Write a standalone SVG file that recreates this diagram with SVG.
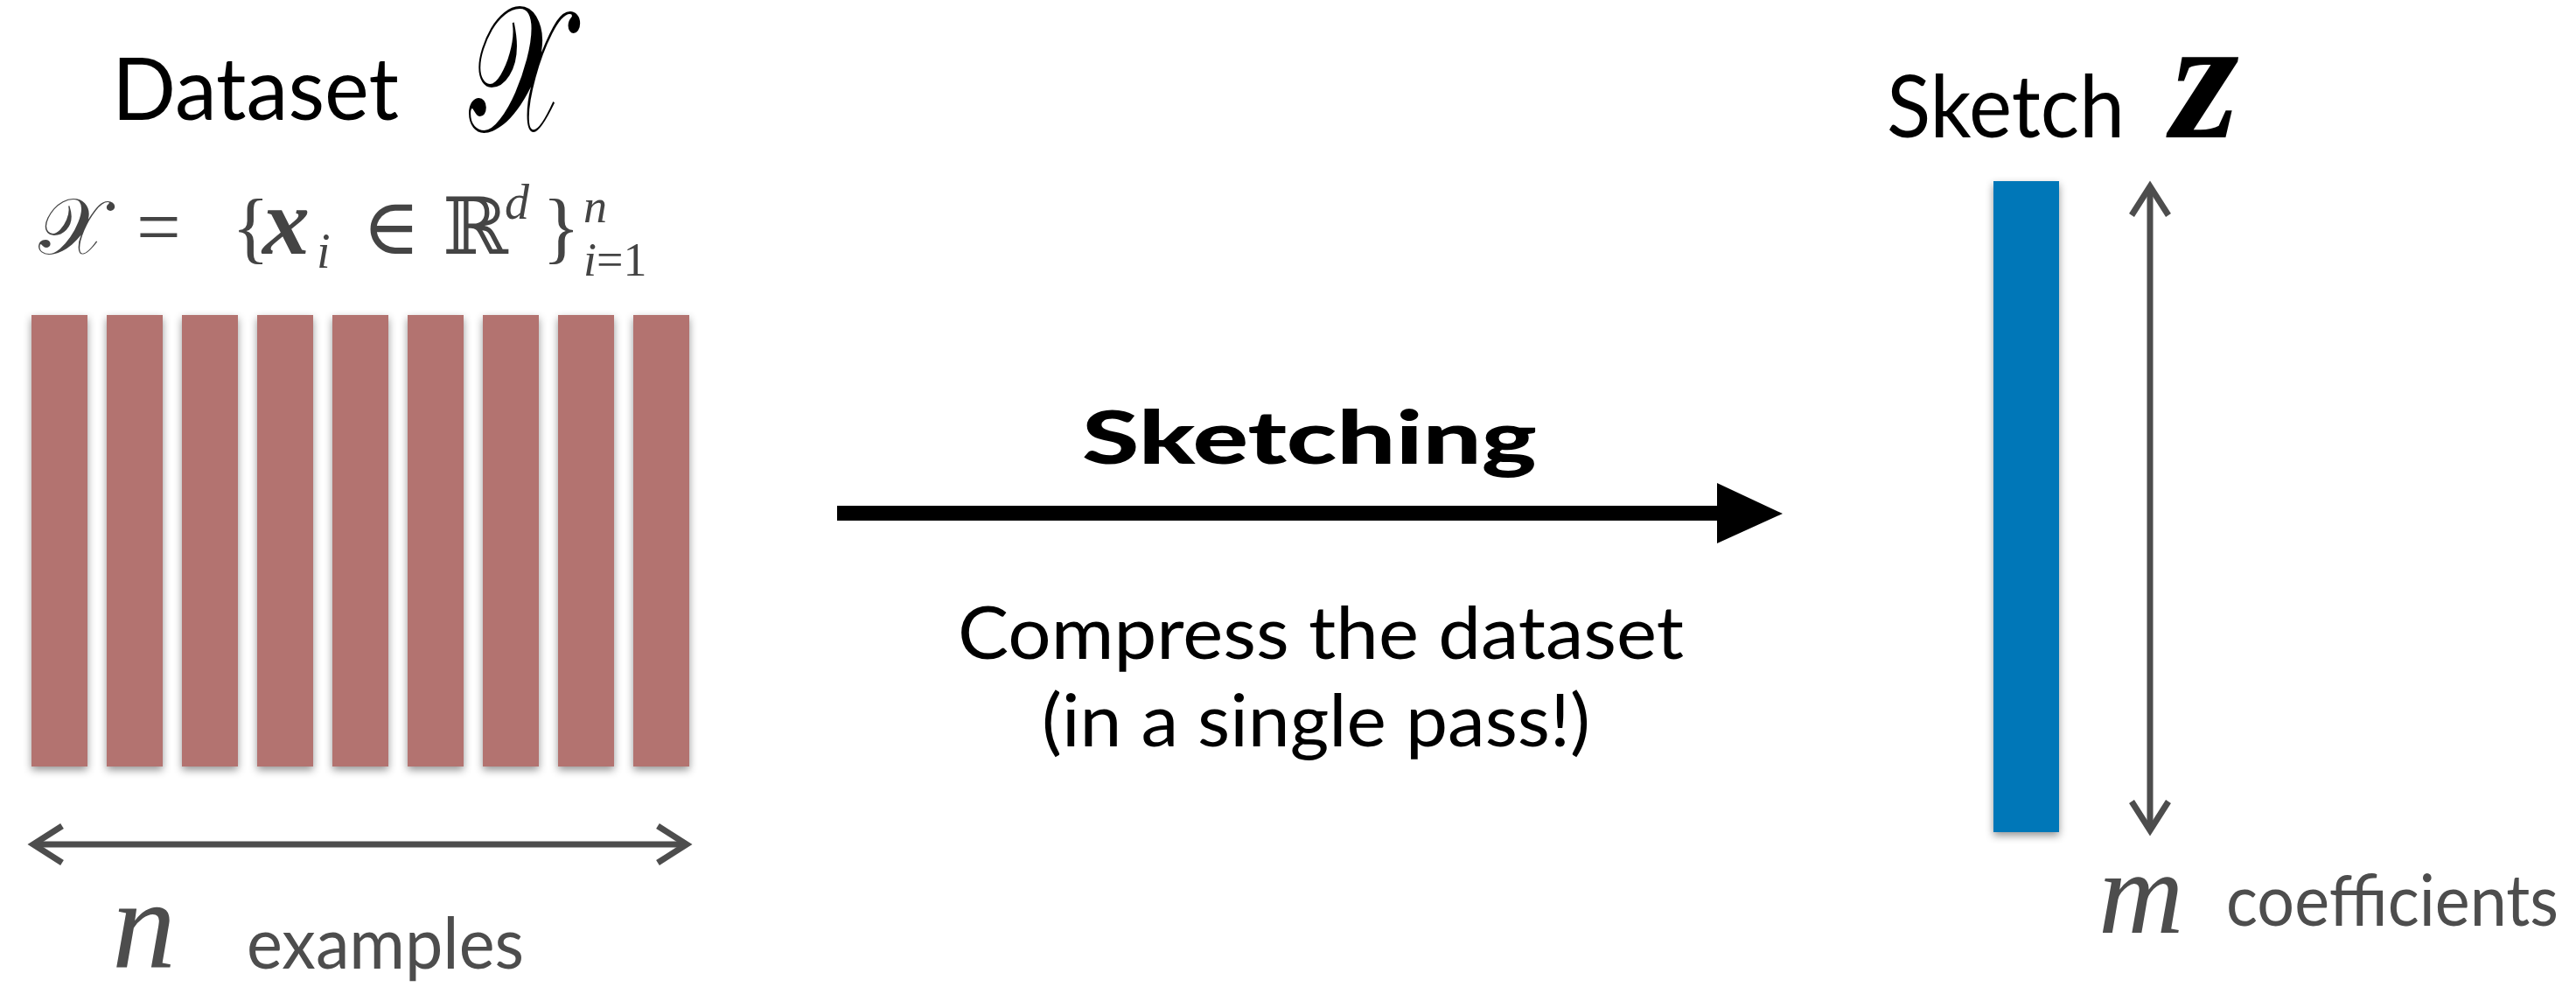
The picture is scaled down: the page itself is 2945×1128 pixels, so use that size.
<svg xmlns="http://www.w3.org/2000/svg" width="2945" height="1128" viewBox="0 0 2945 1128">
<style>
.title{font-family:Lato,"Open Sans",sans-serif;font-size:98px;fill:#000}
.lbl{font-family:Lato,"Open Sans",sans-serif;font-size:82px;fill:#4d4d4d}
.mid{font-family:Lato,"Open Sans",sans-serif;font-size:83px;fill:#000}
.math{font-family:"Liberation Serif","DejaVu Serif",serif;fill:#444}
.it{font-style:italic}
.bar{fill:#B37370;filter:url(#sh)}
.dim{stroke:#4d4d4d;stroke-width:7;fill:none}
</style>
<defs>
<filter id="sh" x="-30%" y="-5%" width="160%" height="110%">
<feDropShadow dx="0" dy="4" stdDeviation="5" flood-color="#000" flood-opacity="0.42"/>
</filter>
<marker id="chev" markerUnits="userSpaceOnUse" markerWidth="60" markerHeight="60" viewBox="-45 -30 60 60" refX="0" refY="0" orient="auto-start-reverse" overflow="visible">
<path d="M -33 -21 L 0 0 L -33 21" fill="none" stroke="#4d4d4d" stroke-width="7" stroke-linejoin="miter"/>
</marker>
</defs>
<rect width="2945" height="1128" fill="#fff"/>
<g id="dataset">
<text class="title" x="128" y="137" textLength="328" lengthAdjust="spacingAndGlyphs">Dataset</text>
<text class="math" transform="translate(536,150) scale(0.64,1)" x="0" y="0" font-size="205" style="fill:#000">𝒳</text>
<text class="math" y="290" font-size="90"><tspan x="44">𝒳</tspan><tspan x="156">=</tspan><tspan x="265">{</tspan><tspan x="300" font-size="108" font-weight="bold" font-style="italic">x</tspan><tspan class="it" x="362" y="306" font-size="56">i</tspan><tspan x="414" y="290">∈</tspan><tspan x="506">ℝ</tspan><tspan class="it" x="577" y="250" font-size="56">d</tspan><tspan x="620" y="290">}</tspan><tspan class="it" x="667" y="254" font-size="54">n</tspan><tspan x="667" y="315" font-size="54"><tspan class="it">i</tspan>=1</tspan></text>
<rect class="bar" x="36" y="360" width="64" height="516"/>
<rect class="bar" x="122" y="360" width="64" height="516"/>
<rect class="bar" x="208" y="360" width="64" height="516"/>
<rect class="bar" x="294" y="360" width="64" height="516"/>
<rect class="bar" x="380" y="360" width="64" height="516"/>
<rect class="bar" x="466" y="360" width="64" height="516"/>
<rect class="bar" x="552" y="360" width="64" height="516"/>
<rect class="bar" x="638" y="360" width="64" height="516"/>
<rect class="bar" x="724" y="360" width="64" height="516"/>
<text class="math it" x="128" y="1106" font-size="146" style="fill:#4d4d4d">n</text>
<text class="lbl" x="282" y="1107" textLength="317" lengthAdjust="spacingAndGlyphs">examples</text>
</g>
<g id="sketch">
<text class="title" x="2157" y="157" textLength="272" lengthAdjust="spacingAndGlyphs">Sketch</text>
<text class="math" x="2482" y="157" font-size="200" font-weight="bold" font-style="italic" style="fill:#000">z</text>
<rect x="2279" y="207" width="75" height="744" fill="#0077B8" filter="url(#sh)"/>
<text class="math it" x="2399" y="1066" font-size="135" style="fill:#4d4d4d">m</text>
<text class="lbl" x="2545" y="1058" font-size="74" textLength="380" lengthAdjust="spacingAndGlyphs">coefficients</text>
</g>
<g id="connectors">
<path d="M 957 578 H 1963 V 552 L 2038 587 L 1963 621 V 595 H 957 Z" fill="#000"/>
<line class="dim" x1="38" y1="965" x2="785" y2="965" marker-start="url(#chev)" marker-end="url(#chev)"/>
<line class="dim" x1="2458" y1="213" x2="2458" y2="949" marker-start="url(#chev)" marker-end="url(#chev)"/>
</g>
<g id="labels">
<text class="mid" x="1237" y="530" font-size="97" font-weight="900" textLength="520" lengthAdjust="spacingAndGlyphs">Sketching</text>
<text class="mid" x="1095" y="753" textLength="830" lengthAdjust="spacingAndGlyphs">Compress the dataset</text>
<text class="mid" x="1191" y="853" textLength="627" lengthAdjust="spacingAndGlyphs">(in a single pass!)</text>
</g>
</svg>
